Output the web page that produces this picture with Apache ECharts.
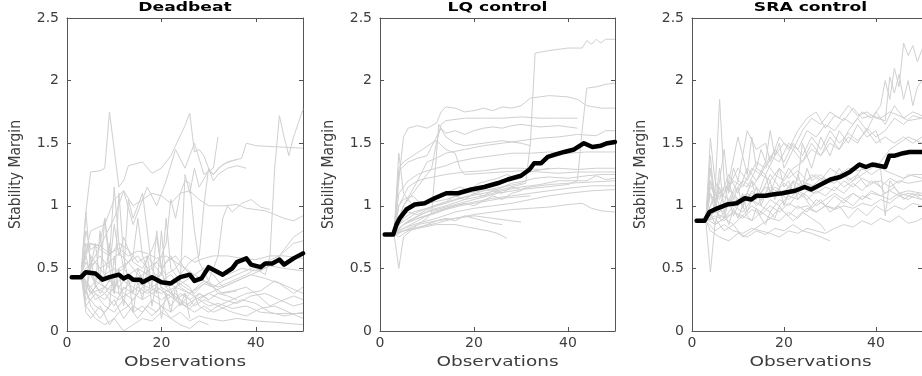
<!DOCTYPE html>
<html>
<head>
<meta charset="UTF-8">
<title>Stability Margin</title>
<script src="https://cdn.jsdelivr.net/npm/echarts@6/dist/echarts.min.js"></script>
<style>
  body { margin: 0; background: #fff; }
  #chart { width: 922px; height: 376px; }
</style>
</head>
<body>
<div id="chart"></div>
<script>
// panel titles and axis ticks
const panelTitles = ['Deadbeat', 'LQ control', 'SRA control'];
const xTitle = 'Observations';
const yTitle = 'Stability Margin';
const xTicks = [0, 20, 40];
const yTicks = [0, 0.5, 1, 1.5, 2, 2.5];

// thick black line per panel, [observation, margin]
const deadbeatMean = [[1,0.43],[3,0.43],[4,0.47],[6,0.46],[7.5,0.41],[9,0.43],[11,0.45],[12,0.42],[13,0.44],[14,0.41],[15.5,0.41],[16,0.39],[18,0.43],[20,0.39],[22,0.38],[24,0.43],[26,0.45],[27,0.4],[28.5,0.42],[30,0.51],[31.5,0.48],[33,0.45],[35,0.5],[36,0.55],[38,0.58],[39,0.53],[41,0.51],[42,0.54],[43.5,0.54],[45,0.57],[46,0.53],[48,0.58],[50,0.62]];
const lqMean = [[1,0.77],[2.8,0.77],[3.5,0.85],[4.2,0.9],[5.6,0.97],[7.4,1.01],[9.5,1.02],[11.6,1.06],[14.1,1.1],[16.6,1.1],[19.4,1.13],[22.2,1.15],[25,1.18],[27.2,1.21],[30,1.24],[31.8,1.29],[32.8,1.34],[34.3,1.34],[35.7,1.39],[37.4,1.41],[39.2,1.43],[41.3,1.45],[43.4,1.5],[45.2,1.47],[47,1.48],[48.4,1.5],[50,1.51]];
const sraMean = [[1,0.88],[2.7,0.88],[3.8,0.95],[5.5,0.98],[7.6,1.01],[9.7,1.02],[11.5,1.06],[12.9,1.05],[14,1.08],[16,1.08],[17.5,1.09],[19.6,1.1],[22.4,1.12],[24.5,1.15],[25.9,1.13],[28,1.17],[30.1,1.21],[32.2,1.23],[34.3,1.27],[36.4,1.33],[37.8,1.31],[39.2,1.33],[40.6,1.32],[42,1.31],[42.9,1.4],[44.1,1.4],[45.9,1.42],[47.3,1.43],[48.3,1.43],[50,1.43]];

// individual runs (grey), [observation, margin]
const deadbeatRuns = [
  [[3,0.45],[4,0.95],[5,1.27],[7,1.28],[8,1.3],[9,1.75],[10,1.45],[11,1.15],[12,1.2],[13,1.32],[16,1.35],[18,1.26],[20,1.3],[22,1.4],[23,1.48],[25,1.64],[26,1.74],[27,1.43],[28,1.45],[29,1.4],[30,1.3],[31,1.25],[33,1.33],[35,1.36],[37,1.38],[38,1.5],[40,1.48],[45,1.47],[50,1.46]],
  [[3,0.45],[5,0.3],[8,0.35],[11,0.3],[14,0.4],[17,0.35],[20,0.3],[23,0.35],[26,0.3],[29,0.4],[32,0.35],[35,0.4],[38,0.45],[40,0.5],[42,0.45],[43,0.6],[44,1.3],[45,1.72],[46,1.55],[47,1.4],[48,1.55],[50,1.77]],
  [[3,0.45],[5,0.8],[8,0.85],[10,1.05],[12,1.12],[14,1.0],[16,1.05],[18,1.1],[20,1.08],[22,1.02],[24,1.1],[26,1.12],[28,1.05],[30,1.0],[33,1.0],[36,1.01],[38,0.98],[40,0.97],[42,0.96],[44,0.93],[46,0.9],[48,0.88],[50,0.92]],
  [[3,0.4],[6,0.6],[10,0.9],[12,1.12],[14,0.85],[17,1.15],[19,1.0],[21,1.2],[23,1.45],[25,1.3],[27,1.5],[29,1.25],[31,1.3],[32,1.55]],
  [[3,0.45],[4,0.3],[6,0.2],[8,0.15],[10,0.25],[12,0.1],[14,0.2],[16,0.15],[18,0.25],[20,0.2],[22,0.1],[24,0.15],[26,0.08],[28,0.12],[30,0.1],[33,0.08],[36,0.1],[40,0.08],[44,0.07],[47,0.06],[50,0.05]],
  [[3,0.45],[4,0.7],[5,0.6],[7,0.5],[9,0.55],[11,0.62],[13,0.55],[15,0.6],[17,0.5],[19,0.55],[21,0.45],[23,0.5],[25,0.6],[27,0.55],[29,0.58],[31,0.6],[34,0.6],[37,0.58],[40,0.57],[43,0.6],[46,0.6],[50,0.58]],
  [[3,0.45],[4,0.25],[6,0.35],[8,0.3],[10,0.4],[12,0.3],[14,0.25],[16,0.35],[18,0.3],[20,0.25],[22,0.3],[24,0.2],[26,0.3],[28,0.25],[30,0.3],[33,0.25],[36,0.22],[39,0.28],[42,0.3],[45,0.25],[48,0.2],[50,0.22]],
  [[3,0.45],[4,0.15],[5,0.1],[7,0.2],[9,0.05],[11,0.15],[13,0.2],[15,0.1],[17,0.2],[19,0.15],[21,0.25],[23,0.3],[25,0.2],[27,0.15],[29,0.2],[31,0.15],[34,0.2],[37,0.25],[40,0.22],[43,0.15],[46,0.12],[50,0.15]],
  [[3,0.45],[4,0.6],[5,0.7],[7,0.65],[9,0.6],[11,0.7],[13,0.65],[15,0.55],[17,0.6],[19,0.5],[21,0.4],[23,0.35],[25,0.4],[27,0.45],[29,0.5],[31,0.45],[33,0.35],[36,0.4],[39,0.45],[42,0.42],[45,0.38],[48,0.3],[50,0.35]],
  [[3,0.45],[4,0.35],[5,0.2],[7,0.1],[9,0.2],[10,0.6],[11,0.3],[13,0.2],[15,0.3],[17,0.4],[19,0.3],[20,0.8],[21,0.4],[23,0.25],[25,0.3],[27,0.2],[29,0.25],[32,0.2],[35,0.15],[38,0.12],[41,0.18],[44,0.2],[47,0.15],[50,0.1]],
  [[3,0.45],[4,0.95],[5,0.5],[6,0.7],[7,0.4],[8,0.9],[9,0.5],[10,0.3],[11,1.1],[12,0.6],[13,0.4],[14,0.3],[15,0.5],[16,0.4],[17,0.6],[18,0.35],[19,0.8],[20,0.5],[21,0.35],[22,0.3],[24,0.25],[26,0.2],[28,0.3],[30,0.25]],
  [[3,0.45],[4,0.4],[6,0.3],[8,0.25],[10,0.35],[12,0.45],[13,1.05],[14,0.9],[15,1.0],[16,1.1],[17,0.8],[18,0.5],[20,0.35],[22,0.3],[24,0.4],[26,0.35],[28,0.2],[30,0.15],[32,0.2],[35,0.25],[38,0.3],[41,0.32],[44,0.4],[47,0.35],[50,0.3]],
  [[3,0.45],[4,0.55],[6,0.4],[8,0.35],[10,0.45],[12,0.5],[14,0.4],[16,0.45],[18,0.5],[20,0.6],[21,0.7],[22,1.05],[23,0.9],[24,1.1],[25,1.2],[26,1.18],[27,0.8],[28,0.55],[30,0.4],[32,0.3],[34,0.28],[36,0.25]],
  [[3,0.45],[4,0.2],[6,0.1],[8,0.05],[10,0.1],[12,0.0],[14,0.05],[16,0.1],[18,0.08],[20,0.15],[22,0.1],[24,0.05],[26,0.02],[28,0.08],[30,0.05]],
  [[3,0.45],[5,0.3],[7,0.4],[9,0.3],[11,0.25],[13,0.3],[15,0.35],[17,0.3],[19,0.35],[21,0.3],[23,0.25],[25,0.2],[27,0.25],[30,0.3],[33,0.35],[36,0.4],[39,0.45],[42,0.5],[44,0.55],[46,0.65],[48,0.75],[50,0.8]],
  [[3,0.45],[4,0.8],[5,0.65],[7,0.7],[8,0.9],[9,0.6],[10,1.15],[11,0.7],[12,0.5],[14,0.6],[15,0.9],[16,0.6],[18,0.4],[20,0.45],[21,0.9],[22,0.5],[24,0.4],[25,1.25],[26,1.1],[27,1.3],[28,1.15],[30,1.28],[31,1.25],[32,1.3],[34,1.35],[36,1.37]],
  [[3,0.45],[4,0.6],[5,0.45],[7,0.3],[9,0.4],[11,0.35],[13,0.45],[15,0.5],[17,0.45],[19,0.4],[21,0.55],[23,0.6],[25,0.5],[27,0.4],[29,0.45],[31,0.5],[34,0.45],[37,0.5],[40,0.48],[43,0.52],[46,0.5],[50,0.48]],
  [[3,0.45],[4,0.3],[5,0.5],[7,0.6],[9,0.5],[10,0.85],[11,0.6],[12,0.75],[14,0.55],[16,0.5],[18,0.65],[19,0.75],[20,0.5],[22,0.6],[24,0.45],[26,0.55],[28,0.6],[29,1.0],[30,1.3],[31,1.2],[32,1.25],[34,1.3],[36,1.32],[38,1.3]],
  [[3,0.45],[4,0.2],[6,0.3],[8,0.2],[10,0.15],[12,0.25],[14,0.15],[16,0.2],[18,0.12],[20,0.2],[22,0.15],[24,0.22],[26,0.18],[28,0.25],[30,0.2],[32,0.22],[35,0.18],[38,0.2],[41,0.15],[44,0.14],[47,0.14],[50,0.14]],
  [[3,0.45],[4,0.5],[6,0.55],[8,0.45],[10,0.5],[12,0.4],[14,0.35],[16,0.3],[18,0.35],[20,0.4],[22,0.45],[24,0.35],[26,0.3],[28,0.35],[30,0.4],[32,0.6],[33,0.9],[34,1.0],[35,0.95],[37,1.02],[39,1.05],[41,0.99],[43,0.97]],
  [[3,0.45],[4,0.4],[6,0.25],[8,0.3],[10,0.2],[12,0.35],[14,0.3],[16,0.25],[18,0.3],[20,0.35],[22,0.2],[24,0.3],[26,0.25],[28,0.3],[30,0.25],[32,0.3],[35,0.32],[38,0.35],[40,0.3],[43,0.2],[46,0.25],[48,0.28],[50,0.25]],
  [[3,0.45],[5,0.35],[7,0.45],[9,0.4],[11,0.5],[13,0.55],[15,0.45],[17,0.4],[19,0.45],[21,0.35],[23,0.4],[25,0.35],[27,0.3],[29,0.38],[31,0.35],[33,0.4],[36,0.45],[39,0.5],[42,0.55],[45,0.6],[48,0.7],[50,0.72]],
  [[3,0.45],[4,0.65],[5,0.7],[7,0.68],[9,0.62],[11,0.66],[13,0.6],[15,0.64],[17,0.62],[19,0.58],[21,0.6],[23,0.55],[25,0.5],[27,0.45],[29,0.4],[31,0.35],[33,0.3],[36,0.32]],
  [[3,0.45],[4,0.3],[5,0.6],[6,0.35],[7,0.8],[8,0.4],[9,0.7],[10,0.3],[11,0.5],[12,0.2],[13,0.45],[14,0.15],[15,0.4],[16,0.25],[17,0.5],[18,0.2],[19,0.4],[20,0.1],[21,0.3],[22,0.15],[23,0.35],[24,0.2],[25,0.3],[26,0.1]]
];

const lqRuns = [
  [[3,0.78],[4,0.85],[6,0.9],[8,0.95],[10,0.98],[14,1.02],[18,1.07],[22,1.1],[26,1.13],[30,1.17],[31,1.18],[32,1.5],[33,2.22],[36,2.24],[40,2.26],[43,2.26],[44,2.32],[45,2.29],[46,2.33],[47,2.3],[48,2.33],[50,2.33]],
  [[3,0.78],[4,0.82],[6,0.88],[10,0.95],[15,1.0],[20,1.05],[25,1.1],[30,1.13],[35,1.15],[40,1.17],[42,1.2],[43,1.6],[44,1.94],[46,1.95],[48,1.97],[50,1.98]],
  [[3,0.8],[4,1.2],[5,1.55],[6,1.62],[8,1.64],[10,1.62],[12,1.66],[13,1.75],[14,1.79],[16,1.78],[18,1.75],[20,1.76],[22,1.78],[24,1.76],[26,1.79],[28,1.78],[30,1.8],[32,1.86],[36,1.88],[40,1.87],[42,1.85],[44,1.8],[47,1.78],[50,1.78]],
  [[3,0.8],[5,1.0],[7,1.1],[9,1.2],[11,1.3],[12,1.5],[13,1.65],[14,1.68],[18,1.7],[22,1.7],[26,1.7],[30,1.71],[34,1.7],[38,1.7],[42,1.7]],
  [[3,0.78],[4,1.28],[6,1.35],[8,1.38],[10,1.4],[12,1.55],[13,1.62],[14,1.58],[16,1.6],[18,1.57],[20,1.6],[22,1.62],[24,1.63],[26,1.62],[28,1.64],[30,1.65],[34,1.63],[38,1.64],[42,1.62]],
  [[3,0.8],[5,1.0],[8,1.2],[10,1.35],[12,1.38],[14,1.42],[18,1.45],[22,1.48],[26,1.5],[30,1.52],[34,1.54],[38,1.55],[42,1.57],[46,1.56],[48,1.6],[50,1.6]],
  [[3,0.78],[4,1.1],[6,1.2],[8,1.25],[10,1.28],[12,1.3],[14,1.32],[16,1.35],[20,1.38],[24,1.4],[28,1.42],[32,1.42],[36,1.43],[40,1.42],[44,1.43],[50,1.43]],
  [[3,0.78],[5,0.8],[8,0.85],[10,0.9],[11,0.95],[12,1.4],[12.5,1.65],[14,1.55],[16,1.5],[18,1.48],[22,1.5],[26,1.52],[30,1.5],[32,1.48]],
  [[3,0.8],[4,1.0],[6,1.15],[8,1.2],[10,1.22],[14,1.25],[18,1.27],[22,1.28],[26,1.3],[30,1.3],[34,1.29],[38,1.3],[42,1.29],[46,1.3],[50,1.3]],
  [[3,0.78],[4,1.3],[5,1.35],[7,1.4],[9,1.45],[11,1.5],[12,1.52],[14,1.45],[16,1.42],[17,1.3],[18,1.25],[22,1.26],[26,1.27],[30,1.28],[34,1.27],[38,1.26],[42,1.27],[46,1.27],[50,1.27]],
  [[3,0.78],[5,0.85],[8,0.92],[11,0.97],[14,1.0],[18,1.05],[22,1.08],[26,1.12],[30,1.15],[34,1.17],[38,1.2],[42,1.2],[44,1.2],[46,1.24],[48,1.21],[50,1.22]],
  [[3,0.78],[5,0.85],[8,0.9],[12,0.95],[16,1.0],[20,1.03],[24,1.06],[28,1.08],[32,1.1],[36,1.12],[40,1.14],[45,1.16],[50,1.16]],
  [[3,0.78],[5,0.82],[8,0.86],[12,0.9],[16,0.95],[20,0.98],[24,1.0],[28,1.02],[32,1.05],[36,1.08],[40,1.1],[45,1.12],[50,1.13]],
  [[3,0.76],[5,0.8],[8,0.83],[12,0.86],[16,0.9],[20,0.93],[24,0.95],[28,0.97],[32,0.98],[36,0.99],[40,1.01],[43,1.02],[45,0.98],[47,0.96],[50,0.95]],
  [[3,0.77],[5,0.8],[8,0.82],[12,0.85],[16,0.85],[20,0.82],[23,0.8],[25,0.78],[27,0.74]],
  [[3,0.77],[4,0.5],[5,0.75],[8,0.85],[12,0.88],[16,0.9],[20,0.92],[24,0.9],[28,0.88],[30,0.87]],
  [[3,0.78],[4,1.42],[5,1.1],[7,1.0],[10,1.02],[14,1.05],[18,1.1],[22,1.12],[26,1.15],[30,1.18],[31,1.2]],
  [[3,0.78],[5,0.9],[7,0.95],[10,0.98],[13,1.02],[16,1.05],[19,1.08],[22,1.12],[25,1.13],[28,1.18],[31,1.2],[33,1.22],[36,1.23],[40,1.22],[44,1.24],[47,1.25],[50,1.25]],
  [[3,0.77],[5,0.85],[8,0.9],[11,0.93],[14,0.97],[17,1.0],[20,1.02],[23,1.04],[26,1.06],[29,1.07],[32,1.08]],
  [[3,0.78],[4,0.8],[6,0.84],[8,0.88],[10,0.92],[12,0.96],[14,0.98],[16,1.0],[18,1.02],[20,1.0],[22,1.04],[24,1.08],[26,1.05],[28,1.1],[30,1.12],[31,1.15]],
  [[3,0.77],[4,0.9],[6,0.95],[8,0.93],[10,0.97],[12,1.0],[14,1.03],[16,1.08],[18,1.05],[20,1.1],[22,1.08],[24,1.12],[26,1.1],[28,1.15],[30,1.13],[32,1.15],[36,1.17],[40,1.18],[45,1.19],[50,1.2]],
  [[3,0.78],[4,0.75],[6,0.8],[8,0.82],[10,0.85],[12,0.88],[14,0.9],[16,0.88],[18,0.92],[20,0.9],[22,0.88],[24,0.86],[26,0.85]],
  [[3,0.78],[4,1.0],[5,1.05],[7,1.08],[9,1.0],[11,1.05],[13,1.1],[15,1.12],[17,1.15],[19,1.12],[21,1.18],[23,1.2],[25,1.22],[27,1.25],[29,1.22],[31,1.26],[33,1.28],[36,1.3]]
];

const sraRuns = [
  [[3,0.9],[4,1.2],[5,1.05],[7,1.1],[9,1.2],[11,1.15],[13,1.3],[15,1.25],[17,1.4],[19,1.35],[21,1.5],[23,1.45],[25,1.6],[27,1.55],[29,1.65],[31,1.6],[33,1.7],[35,1.65],[37,1.75],[39,1.7],[41,1.8],[42,2.0],[43,1.85],[44,2.1],[45,1.95],[46,2.3],[47,2.2],[48,2.28],[49,2.15],[50,2.25]],
  [[3,0.88],[4,1.0],[6,1.1],[8,1.05],[10,1.2],[12,1.15],[14,1.3],[16,1.25],[18,1.4],[20,1.5],[22,1.45],[24,1.6],[26,1.7],[28,1.65],[30,1.75],[32,1.7],[34,1.8],[36,1.72],[38,1.75],[40,1.7],[42,1.68],[43,2.03],[44,1.9],[45,2.05],[46,1.85],[47,2.0],[48,1.8],[49,1.95],[50,2.0]],
  [[3,0.9],[4,1.3],[5,1.1],[6,1.0],[8,1.2],[10,1.55],[11,1.4],[12,1.6],[14,1.45],[16,1.5],[17,1.35],[19,1.55],[21,1.45],[23,1.6],[25,1.7],[27,1.75],[29,1.62],[31,1.72],[33,1.68],[35,1.78],[37,1.7],[39,1.72],[41,1.7],[43,1.75],[45,1.72],[47,1.68],[50,1.7]],
  [[3,0.88],[4,1.54],[5,1.2],[6,1.1],[8,1.15],[10,1.3],[12,1.2],[14,1.35],[16,1.3],[18,1.45],[20,1.35],[22,1.5],[24,1.4],[26,1.55],[28,1.45],[30,1.6],[32,1.5],[34,1.58],[36,1.52],[38,1.6],[40,1.5],[42,1.55],[44,1.5],[46,1.55],[48,1.5],[50,1.55]],
  [[3,0.9],[4,1.0],[5,1.1],[6,1.85],[7,1.2],[8,1.0],[10,1.05],[12,1.1],[14,1.0],[16,1.08],[18,1.15],[20,1.1],[22,1.2],[24,1.15],[26,1.25],[28,1.2],[30,1.3],[32,1.25],[34,1.3],[36,1.28],[38,1.3],[40,1.35],[42,1.28],[44,1.25],[46,1.22],[48,1.25],[50,1.25]],
  [[3,0.88],[4,0.47],[5,0.85],[7,0.9],[9,0.95],[11,0.92],[13,1.0],[15,0.95],[17,1.05],[19,1.0],[21,1.08],[23,1.05],[25,1.12],[27,1.1],[29,1.15],[31,1.12],[33,1.2],[35,1.15],[37,1.22],[39,1.18],[41,1.2],[43,1.15],[45,1.2],[47,1.18],[50,1.2]],
  [[3,0.88],[5,0.8],[7,0.85],[9,0.8],[11,0.78],[13,0.82],[15,0.8],[17,0.78],[19,0.75],[21,0.8],[23,0.78],[25,0.82],[27,0.8],[29,0.78],[31,0.82],[33,0.85],[35,0.83],[37,0.88],[39,0.85],[41,0.9],[43,0.87],[45,0.92],[47,0.86],[49,0.88],[50,0.9]],
  [[3,0.88],[4,0.8],[6,0.75],[8,0.72],[10,0.78],[12,0.75],[14,0.8],[16,0.77],[18,0.82],[20,0.8],[22,0.85],[24,0.8],[26,0.78],[28,0.75],[30,0.72]],
  [[3,0.9],[5,0.95],[7,1.0],[9,1.05],[11,1.02],[13,1.1],[15,1.05],[17,1.12],[19,1.08],[21,1.15],[23,1.1],[25,1.18],[27,1.15],[29,1.2],[31,1.18],[33,1.25],[35,1.2],[37,1.3],[39,1.25],[41,1.3],[42,0.92],[43,1.2],[45,1.1],[47,1.12],[50,1.1]],
  [[3,0.88],[5,0.92],[7,0.88],[9,0.95],[11,0.9],[13,0.97],[15,0.93],[17,1.0],[19,0.95],[21,1.02],[23,0.98],[25,1.0],[27,0.95],[29,1.0],[31,0.97],[33,1.0],[35,0.98],[37,1.02],[39,1.0],[41,1.05],[43,1.02],[45,1.08],[47,1.05],[49,1.1],[50,1.08]],
  [[3,0.9],[4,1.2],[5,1.05],[7,1.15],[9,1.1],[11,1.2],[13,1.15],[15,1.25],[17,1.2],[19,1.3],[21,1.22],[23,1.28],[25,1.2],[27,1.25],[29,1.18],[31,1.22],[33,1.15],[35,1.2],[37,1.25],[39,1.3],[41,1.35],[43,1.45],[45,1.5],[47,1.55],[50,1.5]],
  [[3,0.88],[4,1.1],[6,0.95],[8,1.05],[10,1.0],[12,1.1],[14,1.05],[16,1.15],[18,1.1],[20,1.18],[22,1.12],[24,1.2],[26,1.15],[28,1.22],[30,1.2]],
  [[3,0.9],[5,0.85],[7,0.9],[9,0.85],[11,0.92],[13,0.88],[15,0.95],[17,0.9],[19,0.98],[21,0.92],[23,1.0],[25,0.95],[27,1.05],[29,1.0],[31,1.08],[33,1.02],[35,1.1],[37,1.05],[39,1.12],[41,1.08],[43,1.05],[45,1.1],[47,1.08],[50,1.05]],
  [[3,0.88],[4,1.4],[5,1.0],[6,1.3],[7,0.95],[9,1.1],[11,1.0],[13,1.2],[15,1.1],[17,1.25],[19,1.15],[21,1.3],[23,1.2],[24,1.5],[26,1.3],[28,1.55],[30,1.4],[32,1.6],[34,1.5],[36,1.65],[38,1.55],[40,1.6],[41,1.5]],
  [[3,0.9],[5,0.95],[7,0.9],[9,1.0],[11,0.95],[13,1.05],[15,1.0],[17,0.95],[19,1.05],[21,1.0],[23,1.1],[25,1.05],[27,1.12],[29,1.08],[31,1.15],[33,1.1],[35,1.18],[37,1.12],[39,1.2],[41,1.15],[43,1.22],[45,1.18],[47,1.25],[50,1.22]],
  [[3,0.88],[5,0.9],[7,0.8],[9,0.85],[11,0.75],[13,0.8],[15,0.85],[17,0.9],[19,0.88],[21,0.95],[23,0.9],[25,0.98],[27,0.95],[29,1.0],[31,0.98],[33,1.05],[35,1.0],[37,1.08],[39,1.05]],
  [[3,0.9],[4,1.15],[6,1.05],[8,1.25],[10,1.1],[12,1.3],[14,1.2],[16,1.35],[18,1.25],[20,1.2],[22,1.3],[24,1.35],[26,1.45],[28,1.4],[30,1.5],[32,1.45],[34,1.55],[36,1.5],[38,1.62],[40,1.55],[42,1.6],[44,1.7],[46,1.65],[48,1.72],[50,1.7]],
  [[3,0.88],[5,1.0],[7,0.95],[9,1.08],[11,1.0],[13,1.12],[15,1.05],[17,1.15],[19,1.1],[21,1.05],[23,1.12],[25,1.08],[27,1.0],[29,1.05],[31,1.1],[33,1.05],[35,1.1],[37,1.05],[39,1.1],[41,1.08],[43,1.12],[45,1.08],[47,1.1],[50,1.08]],
  [[3,0.9],[4,1.1],[5,0.95],[6,1.15],[7,1.0],[8,1.2],[9,1.05],[10,1.15],[11,0.98],[12,1.1],[13,1.2],[14,1.05],[15,1.15],[16,1.25],[17,1.1],[18,1.2],[19,1.3],[20,1.15],[21,1.2],[22,1.1],[23,1.25],[24,1.15],[25,1.3],[26,1.2],[28,1.25],[30,1.18],[32,1.3],[34,1.2],[36,1.25],[38,1.15],[40,1.2],[42,1.1],[44,1.15],[46,1.05],[48,1.1],[50,1.05]],
  [[3,0.88],[4,0.95],[5,0.85],[6,1.0],[7,0.9],[8,1.05],[9,0.92],[10,1.0],[11,1.1],[12,0.95],[13,1.05],[14,1.15],[15,1.0],[16,1.1],[17,1.2],[18,1.05],[19,1.15],[20,1.0],[21,1.1],[22,1.2],[23,1.05],[24,1.1],[26,0.98],[28,1.05],[30,0.95],[32,1.0],[34,0.9],[36,0.98],[38,0.92],[40,1.0],[42,0.95],[44,1.0],[46,0.97],[48,1.02],[50,1.0]],
  [[3,0.9],[4,1.3],[5,1.0],[6,1.2],[7,1.45],[8,1.1],[9,1.3],[10,1.2],[11,1.4],[12,1.25],[13,1.55],[14,1.3],[15,1.45],[16,1.35],[17,1.6],[18,1.4],[19,1.5],[20,1.3],[22,1.45],[24,1.35],[26,1.5],[28,1.4],[30,1.55],[32,1.45],[34,1.6],[36,1.7],[38,1.6],[40,1.75],[42,1.65],[44,1.8],[46,1.7],[48,1.75],[50,1.72]],
  [[3,0.88],[4,0.9],[5,1.0],[6,0.9],[7,0.95],[8,0.85],[9,0.98],[10,0.9],[11,1.0],[12,0.92],[13,0.88],[14,0.98],[15,0.9],[16,0.85],[17,0.95],[18,0.9],[19,1.0],[20,0.95],[22,0.88],[24,0.95],[26,0.9],[28,0.85],[29,0.8]]
];

const panels = [
  { runs: deadbeatRuns, mean: deadbeatMean, left: 67, width: 236 },
  { runs: lqRuns, mean: lqMean, left: 380, width: 235 },
  { runs: sraRuns, mean: sraMean, left: 692, width: 237 }
];

const plotTop = 18, plotHeight = 313;
const axisColor = '#555';
const labelColor = '#3d3d3d';
const font = 'DejaVu Sans';
const stretch = 1.32; // the reference text is drawn horizontally stretched

const grids = [], xAxes = [], yAxes = [], graphics = [], series = [];

panels.forEach((p, i) => {
  const cx = p.left + p.width / 2;
  grids.push({ left: p.left, top: plotTop, width: p.width, height: plotHeight });
  graphics.push({
    type: 'text', x: cx, y: 8, scaleX: stretch, silent: true,
    style: { text: panelTitles[i], fontFamily: font, fontSize: 13, fontWeight: 'bold',
      fill: '#000', align: 'center', verticalAlign: 'middle' }
  });
  graphics.push({
    type: 'text', x: cx, y: plotTop + plotHeight + 31, scaleX: stretch, silent: true,
    style: { text: xTitle, fontFamily: font, fontSize: 14, fill: labelColor,
      align: 'center', verticalAlign: 'middle' }
  });
  const xBase = {
    gridIndex: i, type: 'value', min: 0, max: 50,
    splitLine: { show: false },
    axisLine: { show: true, onZero: false, lineStyle: { color: axisColor, width: 1 } }
  };
  xAxes.push(Object.assign({}, xBase, {
    position: 'bottom',
    axisTick: { inside: true, length: 4, customValues: xTicks, lineStyle: { color: axisColor } },
    axisLabel: { customValues: xTicks, fontFamily: font, fontSize: 14, color: labelColor, margin: 5 }
  }));
  xAxes.push(Object.assign({}, xBase, {
    position: 'top',
    axisTick: { inside: true, length: 4, customValues: xTicks, lineStyle: { color: axisColor } },
    axisLabel: { show: false }
  }));
  const yBase = {
    gridIndex: i, type: 'value', min: 0, max: 2.5, interval: 0.5,
    splitLine: { show: false },
    axisLine: { show: true, onZero: false, lineStyle: { color: axisColor, width: 1 } },
    axisTick: { show: true, inside: true, length: 4, lineStyle: { color: axisColor } }
  };
  yAxes.push(Object.assign({}, yBase, {
    position: 'left',
    name: yTitle, nameLocation: 'middle', nameGap: 43,
    nameTextStyle: { fontFamily: 'DejaVu Sans Condensed', fontSize: 15.5, color: labelColor },
    axisLabel: { fontFamily: font, fontSize: 14, color: labelColor, margin: 8,
      formatter: v => String(yTicks.find(t => Math.abs(t - v) < 1e-9) ?? v) }
  }));
  yAxes.push(Object.assign({}, yBase, { position: 'right', axisLabel: { show: false } }));

  p.runs.forEach(run => {
    series.push({
      type: 'line', xAxisIndex: i * 2, yAxisIndex: i * 2, data: run,
      showSymbol: false, silent: true, clip: true,
      lineStyle: { color: '#d0d0d0', width: 1 }, z: 2
    });
  });
  series.push({
    type: 'line', xAxisIndex: i * 2, yAxisIndex: i * 2, data: p.mean,
    showSymbol: false, silent: true, clip: true,
    lineStyle: { color: '#000', width: 4.5, join: 'round', cap: 'round' }, z: 5
  });
});

const chart = echarts.init(document.getElementById('chart'), null, { renderer: 'canvas' });
chart.setOption({
  animation: false,
  backgroundColor: '#fff',
  graphic: graphics,
  grid: grids,
  xAxis: xAxes,
  yAxis: yAxes,
  series: series
});
</script>
</body>
</html>
